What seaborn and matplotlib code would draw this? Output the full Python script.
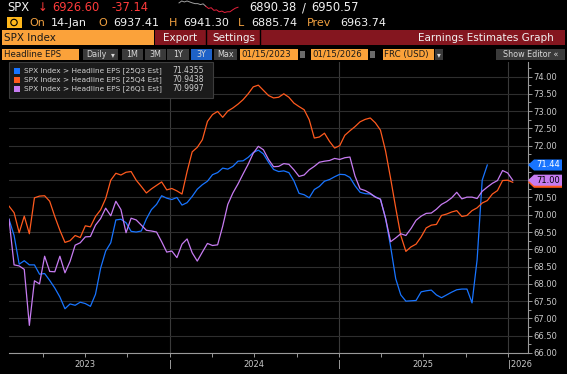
import numpy as np
import pandas as pd
import matplotlib
matplotlib.use("Agg")
import matplotlib.pyplot as plt
import matplotlib.dates as mdates
from matplotlib.patches import Rectangle, Polygon, Circle
from matplotlib.ticker import MultipleLocator, FuncFormatter
import seaborn as sns

# estimate history, one point every 11 days
dates = pd.date_range("2023-01-18", periods=100, freq="11D")

eps_25q3 = [
    69.87, 69.40, 68.57, 68.67, 68.55, 68.55, 68.28, 68.30, 68.10, 67.88,
    67.62, 67.28, 67.42, 67.38, 67.47, 67.43, 67.35, 67.70, 68.45, 68.95,
    69.19, 69.85, 69.87, 69.77, 69.52, 69.50, 69.53, 69.88, 70.15, 70.30,
    70.55, 70.48, 70.44, 70.50, 70.28, 70.35, 70.53, 70.74, 70.87, 70.97,
    71.16, 71.22, 71.35, 71.32, 71.40, 71.55, 71.56, 71.66, 71.80, 71.87,
    71.76, 71.52, 71.31, 71.25, 71.27, 71.22, 70.98, 70.62, 70.58, 70.49,
    70.73, 70.82, 70.97, 71.02, 71.10, 71.17, 71.16, 71.08, 70.84, 70.65,
    70.61, 70.60, 70.52, 70.45, 69.90, 69.08, 68.15, 67.68, 67.50, 67.51,
    67.52, 67.77, 67.80, 67.82, 67.68, 67.60, 67.68, 67.76, 67.83, 67.85,
    67.85, 67.45, 68.70, 71.00, 71.44,
]
eps_25q4 = [
    70.25, 70.06, 69.48, 69.96, 69.45, 70.49, 70.54, 70.55, 70.39, 69.95,
    69.55, 69.20, 69.25, 69.40, 69.34, 69.68, 69.65, 69.95, 70.14, 70.47,
    71.00, 71.20, 71.15, 71.23, 71.25, 71.00, 70.82, 70.63, 70.75, 70.85,
    70.95, 70.72, 70.76, 70.69, 70.60, 71.25, 71.82, 71.95, 72.17, 72.70,
    72.90, 72.99, 72.82, 73.00, 73.09, 73.20, 73.33, 73.50, 73.70, 73.75,
    73.60, 73.45, 73.38, 73.40, 73.50, 73.40, 73.23, 73.13, 73.04, 72.75,
    72.22, 72.25, 72.36, 72.12, 71.93, 72.00, 72.30, 72.43, 72.55, 72.69,
    72.76, 72.80, 72.66, 72.45, 71.85, 71.05, 70.20, 69.40, 68.94, 69.07,
    69.15, 69.36, 69.62, 69.70, 69.72, 69.98, 70.02, 70.08, 70.12, 69.95,
    69.98, 70.12, 70.20, 70.34, 70.41, 70.60, 70.70, 70.99, 71.00, 70.94,
]
eps_26q1 = [
    69.87, 68.55, 68.52, 68.42, 66.80, 68.09, 68.00, 68.80, 68.36, 68.35,
    68.80, 68.32, 68.65, 69.12, 69.19, 69.36, 69.37, 69.70, 69.89, 70.19,
    69.97, 70.39, 70.15, 69.48, 69.90, 69.85, 69.70, 69.55, 69.53, 69.50,
    69.22, 68.92, 68.95, 68.76, 69.15, 69.30, 68.90, 68.66, 68.92, 69.17,
    69.11, 69.13, 69.67, 70.30, 70.63, 70.89, 71.18, 71.46, 71.78, 71.98,
    71.88, 71.60, 71.39, 71.40, 71.48, 71.46, 71.30, 71.11, 71.15, 71.30,
    71.40, 71.52, 71.55, 71.57, 71.63, 71.60, 71.65, 71.67, 71.12, 70.75,
    70.70, 70.62, 70.51, 70.45, 69.90, 69.22, 69.33, 69.45, 69.40, 69.60,
    69.84, 69.96, 70.04, 70.05, 70.16, 70.30, 70.38, 70.49, 70.65, 70.46,
    70.51, 70.51, 70.47, 70.68, 70.80, 70.91, 70.99, 71.28, 71.21, 71.00,
]

series_names = [
    "SPX Index > Headline EPS [25Q3 Est]",
    "SPX Index > Headline EPS [25Q4 Est]",
    "SPX Index > Headline EPS [26Q1 Est]",
]
legend_values = ["71.4355", "70.9438", "70.9997"]
tag_values = [71.44, 70.94, 71.00]
hidden_ticks = [71.0, 71.5]  # covered by the value tags
line_colors = ["#1874ff", "#ff5a1e", "#c77cf2"]

# intraday sparkline in the header (early part grey, later part red)
spark_prices = [6932, 6940, 6936, 6940, 6936, 6932, 6929, 6929, 6925, 6928,
                6918, 6909, 6912, 6901, 6903, 6895, 6898, 6892, 6895, 6895,
                6903, 6910, 6914]
spark_split = 10

frames = []
for name, vals in zip(series_names, [eps_25q3, eps_25q4, eps_26q1]):
    frames.append(pd.DataFrame({"date": dates[:len(vals)], "eps": vals, "series": name}))
df = pd.concat(frames, ignore_index=True)

plt.rcParams["font.family"] = ["DejaVu Sans"]

W, H = 567, 374
fig = plt.figure(figsize=(W / 100, H / 100), dpi=100, facecolor="black")

# ---- main chart
ax = fig.add_axes([9 / W, (H - 353) / H, 519 / W, 291 / H])
ax.set_facecolor("black")
sns.lineplot(data=df, x="date", y="eps", hue="series", palette=line_colors,
             linewidth=0.9, estimator=None, legend=False, ax=ax)

ax.set_xlim(pd.Timestamp("2023-01-18"), pd.Timestamp("2026-02-13"))
ax.set_ylim(66.0, 74.42)
ax.set_xlabel("")
ax.set_ylabel("")


def ytick_fmt(v, pos):
    if any(abs(v - h) < 1e-6 for h in hidden_ticks):
        return ""
    return f"{v:.2f}"


ax.yaxis.tick_right()
ax.yaxis.set_major_locator(MultipleLocator(0.5))
ax.yaxis.set_minor_locator(MultipleLocator(0.25))
ax.yaxis.set_major_formatter(FuncFormatter(ytick_fmt))
ax.tick_params(axis="y", which="both", direction="out", colors="#9a9a9a",
               labelcolor="#c8c8c8", labelsize=6, pad=1)
ax.tick_params(axis="y", which="major", length=3, width=0.7)
ax.tick_params(axis="y", which="minor", length=2, width=0.7)

ax.xaxis.set_major_locator(mdates.YearLocator())
ax.xaxis.set_major_formatter(FuncFormatter(
    lambda v, p: "|2026" if mdates.num2date(v).year == 2026 else "|"))
ax.xaxis.set_minor_locator(mdates.MonthLocator(bymonth=[4, 7, 10]))
ax.xaxis.set_minor_formatter(FuncFormatter(
    lambda v, p: str(mdates.num2date(v).year) if mdates.num2date(v).month == 7 else ""))
ax.tick_params(axis="x", which="both", direction="out", colors="#9a9a9a",
               labelcolor="#c8c8c8", labelsize=6, length=3, width=0.7, pad=2)
for lbl in ax.get_xticklabels():
    if lbl.get_text().startswith("|2"):
        lbl.set_ha("left")

ax.grid(axis="y", which="major", color="#2e2e2e", linewidth=0.8)
ax.grid(axis="x", which="major", color="#3a3a3a", linewidth=0.8)
ax.set_axisbelow(True)
for side in ["top", "left"]:
    ax.spines[side].set_visible(False)
for side in ["bottom", "right"]:
    ax.spines[side].set_color("#9a9a9a")
    ax.spines[side].set_linewidth(0.8)

# last value tags on the right axis (orange sits behind purple)
ytrans = ax.get_yaxis_transform()
tag_h = 0.16
z = 10
for i in [1, 2, 0]:
    v = tag_values[i]
    poly = Polygon([(1.0, v), (1.0 + 6 / 519, v + tag_h), (1.0 + 34 / 519, v + tag_h),
                    (1.0 + 34 / 519, v - tag_h), (1.0 + 6 / 519, v - tag_h)],
                   closed=True, facecolor=line_colors[i], edgecolor="none",
                   transform=ytrans, clip_on=False, zorder=z)
    ax.add_patch(poly)
    if i != 1:
        ax.text(1.0 + 20 / 519, v, f"{v:.2f}", transform=ytrans, ha="center", va="center",
                fontsize=6, color="white" if i == 0 else "black", zorder=z + 1, clip_on=False)
    z += 2

# ---- header / overlay in pixel coordinates
ov = fig.add_axes([0, 0, 1, 1], zorder=5)
ov.set_xlim(0, W)
ov.set_ylim(H, 0)
ov.axis("off")
ov.patch.set_alpha(0)

ORANGE = "#fba23a"
RED_TXT = "#ff3b3b"
LABEL = "#f0a040"
WHITE = "#f2f2f2"
GREY_BTN = "#3a3a3a"


def box(x0, x1, y0, y1, color):
    ov.add_patch(Rectangle((x0, y0), x1 - x0, y1 - y0, facecolor=color, edgecolor="none"))


def txt(x, y, s, color=WHITE, size=8, ha="left", **kw):
    ov.text(x, y, s, color=color, fontsize=size, ha=ha, va="center", **kw)


# row 1
txt(7, 7.5, "SPX", size=8.3)
txt(38, 7.5, "↓", RED_TXT, 8.3)
txt(52, 7.5, "6926.60", RED_TXT, 8.3)
txt(112, 7.5, "-37.14", RED_TXT, 8.3)
sx = np.linspace(179, 238, len(spark_prices))
sp = np.array(spark_prices, dtype=float)
sy = 1 + (sp.max() - sp) / (sp.max() - sp.min()) * 11.5
ov.plot(sx[:spark_split + 1], sy[:spark_split + 1], color="#a0a0a0", linewidth=0.7)
ov.plot(sx[spark_split:], sy[spark_split:], color="#e8203c", linewidth=0.7)
txt(249, 7.5, "6890.38", size=8.3)
txt(302, 7.5, "/", size=8.3)
txt(311, 7.5, "6950.57", size=8.3)

# row 2
box(6.5, 21.5, 17, 27.5, "#ffb81c")
ov.add_patch(Circle((14, 22.5), 3.2, facecolor="none", edgecolor="black", linewidth=0.8))
for x, s, c in [(29, "On", LABEL), (51, "14-Jan", WHITE), (98, "O", LABEL),
                (113, "6937.41", WHITE), (169, "H", LABEL), (183, "6941.30", WHITE),
                (238, "L", LABEL), (251, "6885.74", WHITE), (307, "Prev", LABEL),
                (340, "6963.74", WHITE)]:
    txt(x, 22.5, s, c)

# row 3
box(2, 153.5, 29.5, 44.5, ORANGE)
box(155, 565, 29.5, 44.5, "#84161f")
ov.plot([206, 206], [29.5, 44.5], color="black", linewidth=1)
ov.plot([259.5, 259.5], [29.5, 44.5], color="black", linewidth=1)
txt(3.5, 37.5, "SPX Index", "#1a1a1a", 7.5)
txt(163, 37.5, "Export", WHITE, 7.5)
txt(212, 37.5, "Settings", WHITE, 7.5)
txt(554, 37.5, "Earnings Estimates Graph", WHITE, 7.5, ha="right")

# row 4
ry0, ry1, ryc = 49, 59.5, 54.3
box(2, 79, ry0, ry1, ORANGE)
txt(3.5, ryc, "Headline EPS", "#1a1a1a", 6.2)
box(83, 118, ry0, ry1, GREY_BTN)
txt(86, ryc, "Daily", "#d8d8d8", 5.8)
txt(111, ryc, "▾", "#d8d8d8", 5.5)
for x0, x1, s in [(122, 143, "1M"), (144.5, 165.5, "3M"), (167, 189, "1Y"),
                  (190.5, 212, "3Y"), (213.5, 237, "Max")]:
    box(x0, x1, ry0, ry1, "#1e62c8" if s == "3Y" else GREY_BTN)
    txt((x0 + x1) / 2, ryc, s, "#d8d8d8", 5.8, ha="center")
for x0, x1, s in [(240, 298, "01/15/2023"), (311, 368, "01/15/2026")]:
    box(x0, x1, ry0, ry1, ORANGE)
    txt(x0 + 1.5, ryc, s, "#1a1a1a", 6.2)
    box(x1 + 1.5, x1 + 6.5, ry0 + 2, ry1 - 2, "#6a6a6a")
box(383, 434, ry0, ry1, ORANGE)
txt(384.5, ryc, "FRC (USD)", "#1a1a1a", 6.2)
box(435, 443, ry0, ry1, GREY_BTN)
txt(439, ryc, "▾", "#d8d8d8", 5.5, ha="center")
box(496, 565, ry0, ry1, GREY_BTN)
txt(530.5, ryc, "Show Editor «", "#d8d8d8", 5.8, ha="center")

# legend box
ov.add_patch(Rectangle((9, 62), 204, 36, facecolor="#1b1b1b", edgecolor="#3c3c3c", linewidth=0.8))
for i, (name, val) in enumerate(zip(series_names, legend_values)):
    yc = 70.5 + i * 9
    box(14, 20, yc - 3, yc + 3, line_colors[i])
    txt(24, yc, name, "#d0d0d0", 5.3)
    txt(172, yc, val, "#d0d0d0", 5.5)

fig.savefig("out.png", dpi=100, facecolor="black")
